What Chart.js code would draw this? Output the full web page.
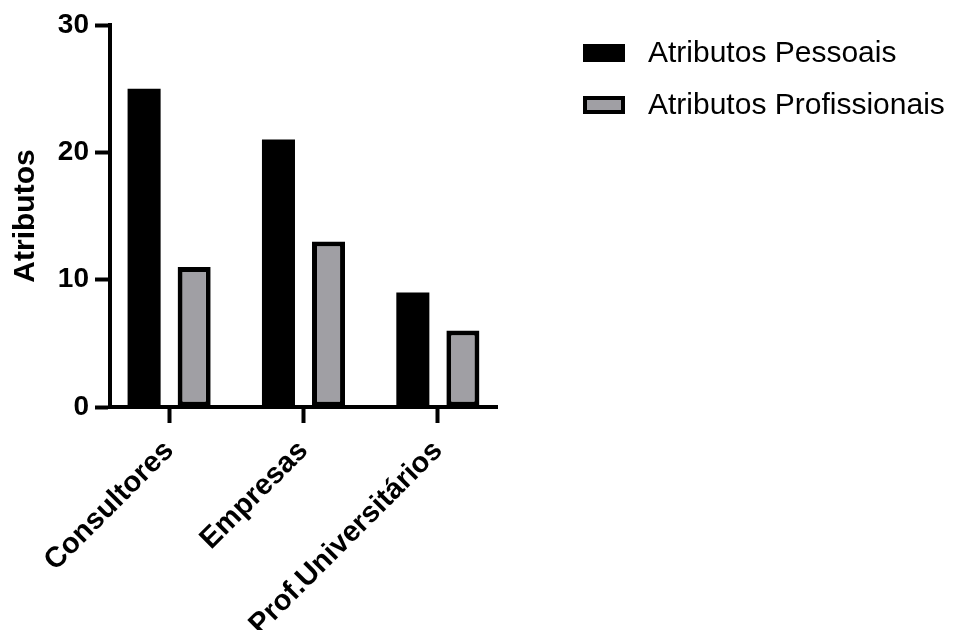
<!DOCTYPE html>
<html lang="pt-br">
<head>
    <meta charset="UTF-8">
    <title>Atributos</title>
    <script src="https://cdn.jsdelivr.net/npm/chart.js"></script>
    <style>
        html, body { margin: 0; padding: 0; background: #ffffff; }
        .grafico { width: 963px; height: 630px; }
    </style>
</head>
<body>
    <div class="grafico">
        <canvas id="graficoAtributos" width="963" height="630"></canvas>
    </div>

<script>
    // dados
    var categorias = ['Consultores', 'Empresas', 'Prof.Universitários'];
    var pessoais = [25, 21, 9];
    var profissionais = [11, 13, 6];
    var nomesSeries = ['Atributos Pessoais', 'Atributos Profissionais'];
    var ticksY = [0, 10, 20, 30];

    var fonte = "Arial, 'Liberation Sans', sans-serif";

    function pontos(valores) {
        var lista = [];
        for (var i = 0; i < valores.length; i++) {
            lista.push({ x: i, y: valores[i] });
        }
        return lista;
    }

    // legenda desenhada à direita, fora da área do gráfico
    var legendaLateral = {
        id: 'legendaLateral',
        afterDraw: function (chart) {
            var ctx = chart.ctx;
            ctx.save();
            chart.data.datasets.forEach(function (ds, i) {
                var y = 53 + i * 52;
                ctx.fillStyle = ds.backgroundColor;
                ctx.fillRect(583, y - 9, 42, 18);
                if (ds.borderWidth > 0) {
                    ctx.lineWidth = 4;
                    ctx.strokeStyle = ds.borderColor;
                    ctx.strokeRect(585, y - 7, 38, 14);
                }
                ctx.fillStyle = '#000000';
                ctx.font = '30px ' + fonte;
                ctx.textBaseline = 'middle';
                ctx.textAlign = 'left';
                ctx.fillText(ds.label, 648, y + 1);
            });
            ctx.restore();
        }
    };

    var config = {
        type: 'bar',
        data: {
            datasets: [{
                label: nomesSeries[0],
                data: pontos(pessoais),
                backgroundColor: '#000000',
                borderColor: '#000000',
                borderWidth: 0,
                categoryPercentage: 0.745,
                barPercentage: 0.66
            }, {
                label: nomesSeries[1],
                data: pontos(profissionais),
                backgroundColor: '#a09fa4',
                borderColor: '#000000',
                borderWidth: 5,
                borderSkipped: false,
                categoryPercentage: 0.745,
                barPercentage: 0.66
            }]
        },
        options: {
            responsive: false,
            animation: false,
            layout: {
                padding: { top: 25, right: 466, left: 0, bottom: 0 }
            },
            plugins: {
                legend: { display: false },
                tooltip: { enabled: false }
            },
            scales: {
                x: {
                    type: 'linear',
                    offset: false,
                    min: -0.44,
                    max: categorias.length - 1 + 0.44,
                    afterFit: function (s) { s.height = 223; },
                    afterBuildTicks: function (s) {
                        s.ticks = categorias.map(function (c, i) { return { value: i }; });
                    },
                    ticks: {
                        autoSkip: false,
                        maxRotation: 45,
                        minRotation: 45,
                        color: '#000000',
                        padding: 11,
                        font: { family: fonte, size: 29, weight: 'bold' },
                        callback: function (v) { return categorias[v]; }
                    },
                    grid: {
                        offset: false,
                        drawOnChartArea: false,
                        drawTicks: true,
                        tickLength: 16,
                        tickWidth: 4,
                        tickColor: '#000000'
                    },
                    border: { display: true, color: '#000000', width: 4 }
                },
                y: {
                    min: 0,
                    max: 30,
                    afterFit: function (s) { s.width = 110; },
                    afterBuildTicks: function (s) {
                        s.ticks = ticksY.map(function (v) { return { value: v }; });
                    },
                    ticks: {
                        color: '#000000',
                        padding: 6,
                        font: { family: fonte, size: 28, weight: 'bold' }
                    },
                    grid: {
                        drawOnChartArea: false,
                        drawTicks: true,
                        tickLength: 15,
                        tickWidth: 4,
                        tickColor: '#000000'
                    },
                    border: { display: true, color: '#000000', width: 4 },
                    title: {
                        display: true,
                        text: 'Atributos',
                        color: '#000000',
                        padding: { top: 8, bottom: 0 },
                        font: { family: fonte, size: 30, weight: 'bold' }
                    }
                }
            }
        },
        plugins: [legendaLateral]
    };

    var grafico = new Chart(document.getElementById('graficoAtributos'), config);
</script>
</body>
</html>
